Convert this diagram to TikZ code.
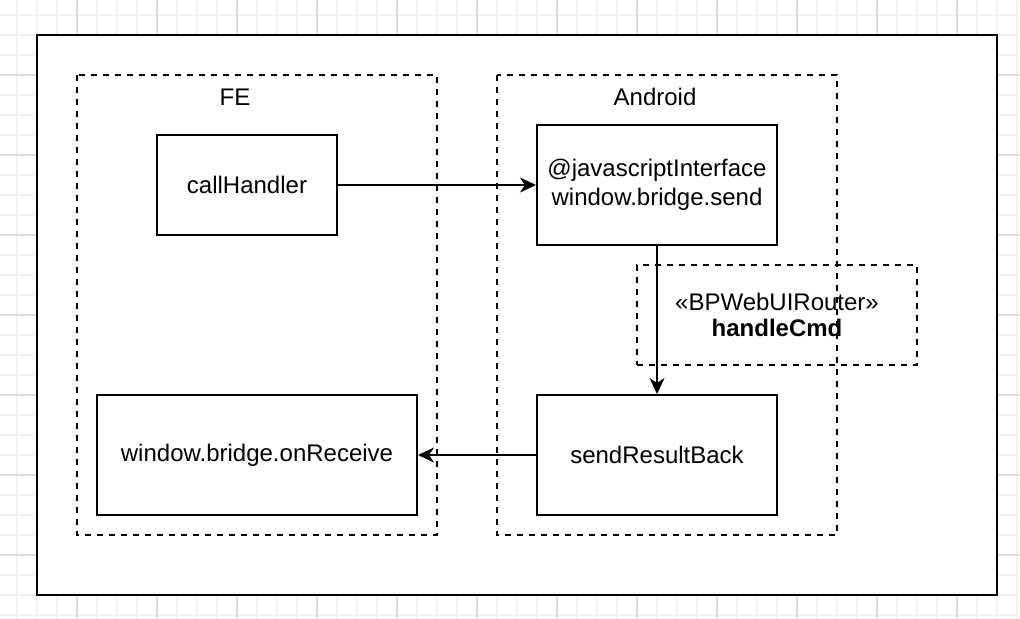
\documentclass[tikz,border=0pt]{standalone}
\usepackage{fontspec}
\setmainfont{Liberation Sans}
\usepackage{xcolor}
\usetikzlibrary{arrows.meta}
\definecolor{gridlight}{HTML}{F2F2F2}
\definecolor{gridmid}{HTML}{DCDCDC}
\tikzset{
    gridminor/.style={draw=gridlight, line width=0.6pt},
    gridmajor/.style={draw=gridmid, line width=0.6pt},
    frame/.style={draw=black, fill=white, line width=1pt},
    group/.style={draw=black, line width=1pt, dash pattern=on 3pt off 3pt},
    block/.style={draw=black, line width=1pt, inner sep=2pt, align=center},
    link/.style={line width=1pt, -{Stealth[length=8pt, width=7.5pt, inset=2.5pt]}}
}

\begin{document}
\begin{tikzpicture}[x=0.5pt, y=-0.5pt, font=\fontsize{12}{14}\selectfont]
    \useasboundingbox (0,0) rectangle (1020,618);
    % background grid
    \foreach \x in {17,37,...,1017} \draw[gridminor] (\x,0) -- (\x,618);
    \foreach \y in {15,35,...,615} \draw[gridminor] (0,\y) -- (1020,\y);
    \foreach \x in {77,157,...,1017} \draw[gridmajor] (\x,0) -- (\x,618);
    \foreach \y in {75,155,...,555} \draw[gridmajor] (0,\y) -- (1020,\y);
    \draw[frame] (37,35) rectangle (997,595);
    % groups
    \draw[group] (77,75) rectangle (437,535);
    \draw[group] (497,75) rectangle (837,535);
    \node (felabel) at (235,97) {FE};
    \node (androidlabel) at (655,97) {Android};
    % blocks
    \node[block, minimum width=90pt, minimum height=50pt] (call) at (247,185) {callHandler};
    \node[block, minimum width=120pt, minimum height=60pt, font=\fontsize{12}{14.5}\selectfont] (jsif) at (657,185) {@javascriptInterface\\window.bridge.send};
    \node[group, minimum width=140pt, minimum height=50pt, align=center, font=\fontsize{12}{13}\selectfont] (router) at (777,315) {«BPWebUIRouter»\\\textbf{handleCmd}};
    \node[block, minimum width=160pt, minimum height=60pt] (recv) at (257,455) {window.bridge.onReceive};
    \node[block, minimum width=120pt, minimum height=60pt] (back) at (657,455) {sendResultBack};
    % connectors
    \draw[link] (call) -- (jsif);
    \draw[link] (jsif) -- (back);
    \draw[link] (back) -- (recv);
\end{tikzpicture}
\end{document}
